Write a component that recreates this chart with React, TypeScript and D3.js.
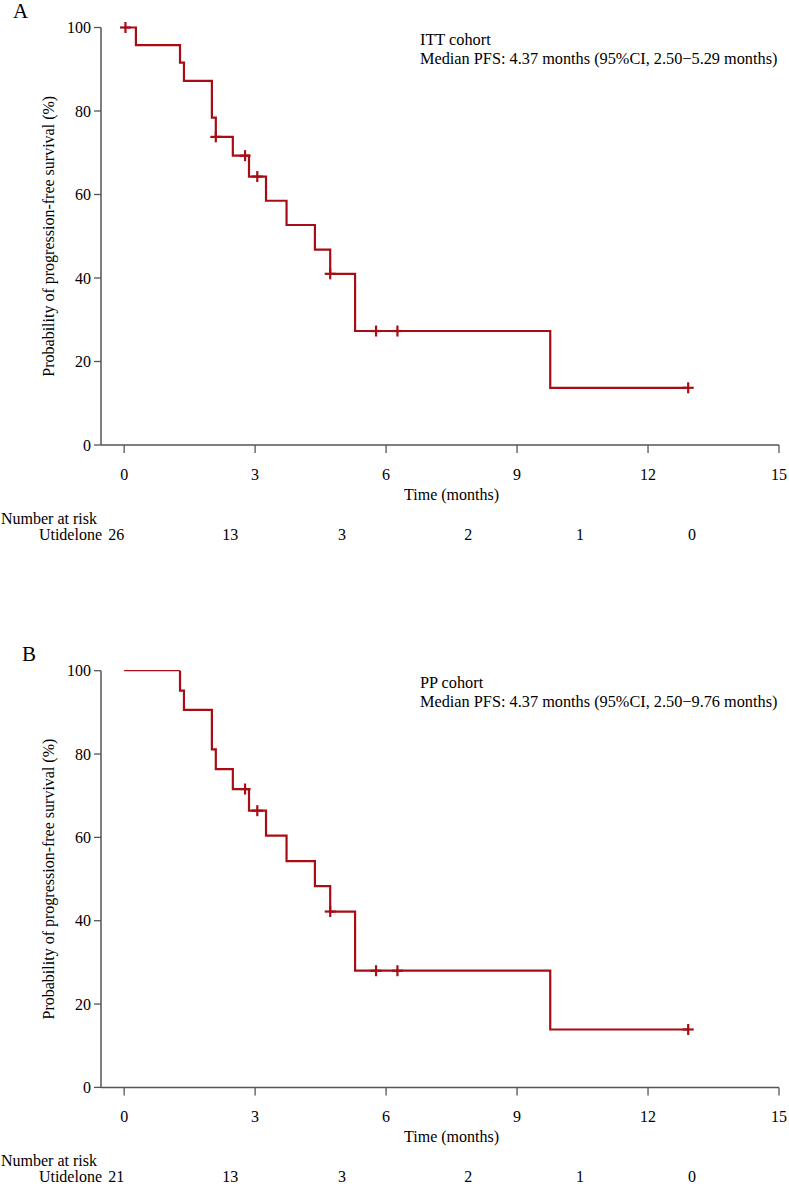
import React from "react";
import * as d3 from "d3";

// ---------- data ----------
const xTicks = [0, 3, 6, 9, 12, 15];
const yTicks = [0, 20, 40, 60, 80, 100];

// Panel A (ITT cohort)
const stepTimesA = [0.27, 1.28, 1.37, 2.01, 2.1, 2.49, 2.86, 3.25, 3.72, 4.37, 4.72, 5.29, 9.76];
const stepSurvA = [95.8, 91.6, 87.2, 78.4, 73.8, 69.3, 64.3, 58.5, 52.7, 46.8, 41.0, 27.3, 13.7];
const censorA = [0.03, 2.1, 2.77, 3.05, 4.72, 5.77, 6.26, 12.92];
const endTimeA = 12.92;
const riskA = [26, 13, 3, 2, 1, 0];

// Panel B (PP cohort)
const stepTimesB = [1.28, 1.37, 2.01, 2.1, 2.49, 2.86, 3.25, 3.72, 4.37, 4.72, 5.29, 9.76];
const stepSurvB = [95.2, 90.6, 81.1, 76.4, 71.6, 66.4, 60.4, 54.3, 48.3, 42.2, 28.0, 13.9];
const censorB = [2.77, 3.05, 4.72, 5.77, 6.26, 12.92];
const endTimeB = 12.92;
const riskB = [21, 13, 3, 2, 1, 0];

const riskTimes = [-0.18, 2.43, 4.99, 7.88, 10.44, 13.01];

const RED = "#a80c14";
const AXIS = "#555555";
const FONT = "'Liberation Serif', 'Times New Roman', serif";

type PanelProps = {
  letter: string;
  letterX: number;
  top: number; // y pixel of value 100
  bottom: number; // y pixel of value 0
  times: number[];
  surv: number[];
  censor: number[];
  endTime: number;
  thinStart: boolean;
  cohort: string;
  median: string;
  risk: number[];
};

function survAt(t: number, times: number[], surv: number[]) {
  let s = 100;
  for (let i = 0; i < times.length; i++) if (times[i] <= t) s = surv[i];
  return s;
}

function Panel(p: PanelProps) {
  const x = d3.scaleLinear().domain([-0.53, 15]).range([101, 779]);
  const y = d3.scaleLinear().domain([0, 100]).range([p.bottom, p.top]);

  const pts: [number, number][] = [[0, 100]];
  p.times.forEach((t, i) => pts.push([t, p.surv[i]]));
  pts.push([p.endTime, p.surv[p.surv.length - 1]]);
  const line = d3
    .line<[number, number]>()
    .x((d) => x(d[0]))
    .y((d) => y(d[1]))
    .curve(d3.curveStepAfter);

  let mainPts = pts;
  let thinPath: string | null = null;
  if (p.thinStart) {
    thinPath = line([pts[0], [pts[1][0], 100]]);
    mainPts = [[pts[1][0], 100], ...pts.slice(1)];
  }

  const yMid = (p.top + p.bottom) / 2;
  const cs = 5.5;

  return (
    <g>
      <text x={p.letterX} y={p.top - 10} fontSize={21}>
        {p.letter}
      </text>
      {/* y axis */}
      <line x1={x(-0.53)} x2={x(-0.53)} y1={p.top} y2={p.bottom} stroke={AXIS} strokeWidth={1.5} />
      {yTicks.map((v) => (
        <g key={"y" + v}>
          <line x1={x(-0.53) - 7} x2={x(-0.53)} y1={y(v)} y2={y(v)} stroke={AXIS} strokeWidth={1.3} />
          <text x={x(-0.53) - 10} y={y(v)} dy="0.35em" textAnchor="end" fontSize={16}>
            {v}
          </text>
        </g>
      ))}
      <text
        transform={`translate(48,${yMid}) rotate(-90)`}
        textAnchor="middle"
        dy="0.35em"
        fontSize={16}
      >
        Probability of progression-free survival (%)
      </text>
      {/* x axis */}
      <line x1={x(-0.53)} x2={x(15)} y1={p.bottom} y2={p.bottom} stroke={AXIS} strokeWidth={1.5} />
      {xTicks.map((t) => (
        <g key={"x" + t}>
          <line x1={x(t)} x2={x(t)} y1={p.bottom} y2={p.bottom + 8} stroke={AXIS} strokeWidth={1.3} />
          <text x={x(t)} y={p.bottom + 35} textAnchor="middle" fontSize={16}>
            {t}
          </text>
        </g>
      ))}
      <text x={x(7.5)} y={p.bottom + 55} textAnchor="middle" fontSize={16}>
        Time (months)
      </text>
      {/* curve */}
      {thinPath && <path d={thinPath} fill="none" stroke={RED} strokeWidth={1.2} />}
      <path d={line(mainPts) || ""} fill="none" stroke={RED} strokeWidth={2.2} />
      {p.censor.map((t, i) => {
        const cx = x(t);
        const cy = y(survAt(t, p.times, p.surv));
        return (
          <g key={"c" + i} stroke={RED} strokeWidth={2.2}>
            <line x1={cx} x2={cx} y1={cy - cs} y2={cy + cs} />
            <line x1={cx - cs} x2={cx + cs} y1={cy} y2={cy} />
          </g>
        );
      })}
      {/* annotation */}
      <text x={420} y={p.top + 17} fontSize={16.3}>
        {p.cohort}
      </text>
      <text x={420} y={p.top + 36} fontSize={16.3}>
        {p.median}
      </text>
      {/* number at risk */}
      <text x={1} y={p.bottom + 79} fontSize={16}>
        Number at risk
      </text>
      <text x={102} y={p.bottom + 95} textAnchor="end" fontSize={16}>
        Utidelone
      </text>
      {p.risk.map((n, i) => (
        <text key={"r" + i} x={x(riskTimes[i])} y={p.bottom + 95} textAnchor="middle" fontSize={16}>
          {n}
        </text>
      ))}
    </g>
  );
}

export default function App() {
  return (
    <svg
      width={789}
      height={1184}
      fontFamily={FONT}
      style={{ position: "absolute", left: 0, top: 0, background: "#fff" }}
    >
      <rect width={789} height={1184} fill="#fff" />
      <Panel
        letter="A"
        letterX={13}
        top={27.5}
        bottom={445}
        times={stepTimesA}
        surv={stepSurvA}
        censor={censorA}
        endTime={endTimeA}
        thinStart={false}
        cohort="ITT cohort"
        median={"Median PFS: 4.37 months (95%CI, 2.50\u22125.29 months)"}
        risk={riskA}
      />
      <Panel
        letter="B"
        letterX={22}
        top={670.7}
        bottom={1087.4}
        times={stepTimesB}
        surv={stepSurvB}
        censor={censorB}
        endTime={endTimeB}
        thinStart={true}
        cohort="PP cohort"
        median={"Median PFS: 4.37 months (95%CI, 2.50\u22129.76 months)"}
        risk={riskB}
      />
    </svg>
  );
}
